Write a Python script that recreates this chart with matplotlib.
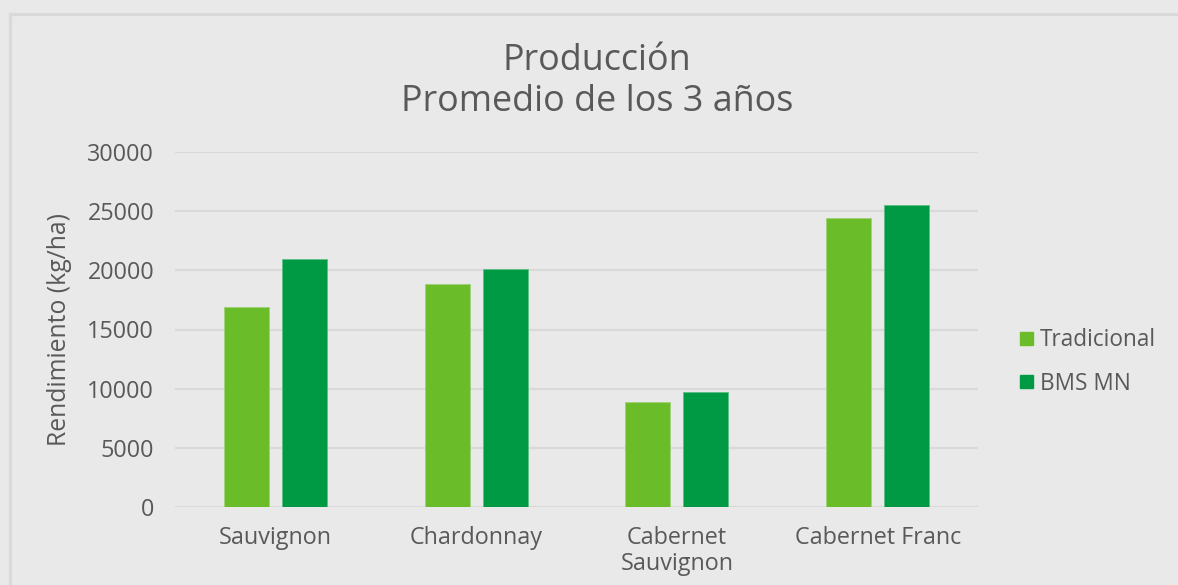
import matplotlib
matplotlib.use("Agg")
import matplotlib.pyplot as plt
import numpy as np
from matplotlib.patches import Rectangle, Patch

categories = ["Sauvignon", "Chardonnay", "Cabernet\nSauvignon", "Cabernet Franc"]
tradicional = [16900, 18870, 8850, 24450]
bms_mn = [21000, 20140, 9690, 25550]
series_names = ["Tradicional", "BMS MN"]
yticks = [0, 5000, 10000, 15000, 20000, 25000, 30000]

c_trad, c_bms = "#6abd28", "#009a44"
txt = "#595959"
grid_c = "#d9d9d9"
bg = "#e9e9e9"

plt.rcParams["font.family"] = ["Open Sans", "DejaVu Sans"]
fs = 16.8

W, H = 1178, 585
fig = plt.figure(figsize=(W / 100, H / 100), dpi=100, facecolor=bg)
ax = fig.add_axes([175 / W, 1 - 507 / H, (978 - 175) / W, (507 - 152) / H])
ax.set_facecolor(bg)

# marco del gráfico
fig.patches.append(Rectangle((9.5 / W, -0.1), 1.2, 1 - 13.5 / H + 0.1, transform=fig.transFigure,
                             fill=False, ec=grid_c, lw=2.3, zorder=0))

x = np.arange(len(categories))
bw, off = 0.224, 0.144
ax.bar(x - off, tradicional, bw, color=c_trad, edgecolor="#9fd37a", lw=0.6, zorder=3)
ax.bar(x + off, bms_mn, bw, color=c_bms, edgecolor="#5cbf85", lw=0.6, zorder=3)

ax.set_xlim(-0.5, len(categories) - 0.5)
ax.set_ylim(0, 30000)
ax.set_yticks(yticks)
ax.yaxis.grid(True, color=grid_c, lw=1.6, zorder=0)
ax.set_axisbelow(True)
for s in ax.spines.values():
    s.set_visible(False)
ax.set_xticks(x)
ax.set_xticklabels(categories, fontsize=fs, color=txt, linespacing=1.1)
ax.tick_params(axis="y", length=0, pad=15, labelsize=fs, labelcolor=txt)
ax.tick_params(axis="x", length=0, pad=14)
ax.set_ylabel("Rendimiento (kg/ha)", fontsize=17.8, color=txt)
ax.yaxis.set_label_coords((72 - 175) / 803, 0.5)

fig.text(597 / W, 1 - 70 / H, "Producción", ha="center", va="baseline", fontsize=25.8, color=txt)
fig.text(597 / W, 1 - 111 / H, "Promedio de los 3 años", ha="center", va="baseline", fontsize=25.8, color=txt)

handles = [Patch(color=c_trad), Patch(color=c_bms)]
fig.legend(handles, series_names, loc="center left", bbox_to_anchor=(1000 / W, 1 - 362 / H),
           frameon=False, fontsize=16.3, handlelength=0.55, handleheight=0.55,
           handletextpad=0.3, labelspacing=0.85, labelcolor=txt)

fig.savefig("out.png", dpi=100, facecolor=bg)
